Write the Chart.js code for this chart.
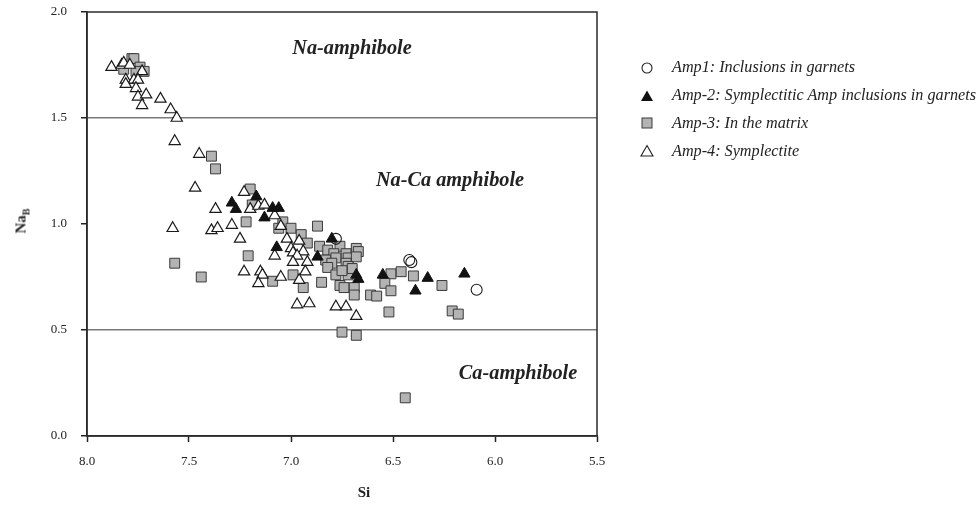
<!DOCTYPE html>
<html>
<head>
<meta charset="utf-8">
<script src="https://cdn.jsdelivr.net/npm/chart.js@4/dist/chart.umd.min.js"></script>
<style>
  html, body { margin: 0; padding: 0; background: #fff; }
  #wrap { position: relative; width: 979px; height: 508px; font-family: "Liberation Serif", "DejaVu Serif", serif; color: #222; }
  #c { position: absolute; left: 0; top: 0; }
  .region { position: absolute; font-weight: bold; font-style: italic; font-size: 20.3px; white-space: nowrap; transform: translate(-50%, -50%); color: #222; }
  .axis-title { position: absolute; font-weight: bold; font-size: 15px; white-space: nowrap; transform: translate(-50%, -50%); }
  .ytitle { transform: translate(-50%, -50%) rotate(-90deg); }
  .ytitle sub { font-size: 10px; }
  #legend { position: absolute; left: 639px; top: 54px; }
  .item { height: 27.8px; display: flex; align-items: center; font-style: italic; font-size: 16.2px; white-space: nowrap; }
  .mk { width: 16px; height: 14px; margin-right: 17px; display: inline-block; }
</style>
</head>
<body>
<div id="wrap">
  <canvas id="c" width="979" height="508"></canvas>
  <div class="region" style="left:352px; top:47px;">Na-amphibole</div>
  <div class="region" style="left:450px; top:179px;">Na-Ca amphibole</div>
  <div class="region" style="left:518px; top:372px;">Ca-amphibole</div>
  <div class="axis-title" style="left:364px; top:492px;">Si</div>
  <div class="axis-title ytitle" style="left:22px; top:221px;">Na<sub>B</sub></div>
  <div id="legend"></div>
</div>
<script>
// Na(B) vs Si 分類図（角閃石）
const X_MIN = 5.5;
const X_MAX = 8.0;
const Y_MIN = 0;
const Y_MAX = 2.0;
const X_TICKS = [8.0, 7.5, 7.0, 6.5, 6.0, 5.5];
const Y_TICKS = [0.0, 0.5, 1.0, 1.5, 2.0];
const BOUNDARIES = [0.5, 1.5];

const SERIES_LABELS = [
  "Amp1: Inclusions in garnets",
  "Amp-2: Symplectitic Amp inclusions in garnets",
  "Amp-3: In the matrix",
  "Amp-4: Symplectite",
];

// [Si, NaB]
const AMP1 = [[6.78,0.93],[6.42,0.83],[6.41,0.82],[6.09,0.69]];

const AMP2 = [
  [7.29,1.10],[7.27,1.07],[7.17,1.13],[7.09,1.075],[7.06,1.075],[7.13,1.03],
  [7.07,0.89],[6.80,0.93],[6.87,0.845],[6.68,0.76],[6.67,0.74],[6.55,0.76],
  [6.33,0.745],[6.15,0.765],[6.39,0.685]
];

const AMP3 = [
  [7.78,1.78],[7.77,1.78],[7.74,1.74],[7.72,1.72],[7.82,1.73],[7.76,1.72],
  [7.39,1.32],[7.37,1.26],[7.20,1.165],[7.19,1.09],[7.22,1.01],[7.04,1.01],
  [7.06,0.98],[7.00,0.98],[6.87,0.99],[6.95,0.95],[6.92,0.91],[6.86,0.895],
  [6.82,0.877],[6.76,0.895],[6.68,0.885],[6.67,0.87],[6.73,0.86],[6.79,0.86],
  [6.83,0.83],[6.78,0.84],[6.72,0.84],[6.68,0.845],[6.80,0.815],[6.73,0.815],
  [6.82,0.795],[6.72,0.80],[7.21,0.85],[7.57,0.815],[7.44,0.75],[7.09,0.73],
  [6.99,0.76],[6.78,0.76],[6.72,0.76],[6.94,0.70],[6.85,0.725],[6.76,0.71],
  [6.74,0.70],[6.69,0.70],[6.69,0.665],[6.61,0.665],[6.58,0.66],[6.51,0.765],
  [6.46,0.775],[6.40,0.755],[6.54,0.72],[6.51,0.685],[6.26,0.71],[6.52,0.585],
  [6.21,0.59],[6.18,0.575],[6.75,0.49],[6.68,0.475],[6.44,0.18],[6.70,0.79],
  [6.75,0.78]
];

const AMP4 = [
  [7.88,1.74],[7.83,1.75],[7.82,1.76],[7.79,1.75],[7.73,1.72],[7.81,1.68],
  [7.77,1.68],[7.75,1.68],[7.81,1.66],[7.76,1.64],[7.75,1.60],[7.71,1.61],
  [7.73,1.56],[7.64,1.59],[7.59,1.54],[7.56,1.50],[7.57,1.39],[7.45,1.33],
  [7.47,1.17],[7.23,1.15],[7.20,1.07],[7.16,1.085],[7.13,1.09],[7.37,1.07],
  [7.08,1.04],[7.29,0.995],[7.39,0.97],[7.36,0.98],[7.05,0.99],[7.58,0.98],
  [7.25,0.93],[7.02,0.93],[6.96,0.92],[7.00,0.885],[6.94,0.87],[6.99,0.865],
  [7.08,0.85],[6.97,0.85],[6.92,0.82],[6.99,0.82],[7.23,0.775],[7.15,0.775],
  [7.14,0.76],[7.16,0.72],[7.05,0.75],[6.93,0.775],[6.96,0.735],[6.97,0.62],
  [6.91,0.625],[6.78,0.61],[6.73,0.61],[6.68,0.565]
];

const toPts = arr => arr.map(([x, y]) => ({ x, y }));

// 枠線（上・右も含めて囲む）
const framePlugin = {
  id: "frame",
  afterDraw(chart) {
    const { ctx, chartArea: a } = chart;
    ctx.save();
    ctx.strokeStyle = "#2a2a2a";
    ctx.lineWidth = 1.5;
    ctx.strokeRect(a.left, a.top, a.right - a.left, a.bottom - a.top);
    ctx.restore();
  }
};

const PLOT = { left: 87, right: 597, top: 12, bottom: 436 };
const TICK_FONT = { family: "Liberation Serif", size: 13 };

new Chart(document.getElementById("c").getContext("2d"), {
  type: "scatter",
  data: {
    datasets: [
      {
        label: SERIES_LABELS[2], data: toPts(AMP3), order: 4,
        pointStyle: "rect", pointRadius: 7, pointHoverRadius: 7,
        backgroundColor: "#b3b3b3", borderColor: "#3a3a3a", borderWidth: 1,
      },
      {
        label: SERIES_LABELS[3], data: toPts(AMP4), order: 3,
        pointStyle: "triangle", pointRadius: 6.5, pointHoverRadius: 6.5,
        backgroundColor: "#ffffff", borderColor: "#1a1a1a", borderWidth: 1.2,
      },
      {
        label: SERIES_LABELS[1], data: toPts(AMP2), order: 2,
        pointStyle: "triangle", pointRadius: 6.5, pointHoverRadius: 6.5,
        backgroundColor: "#111111", borderColor: "#111111", borderWidth: 1,
      },
      {
        label: SERIES_LABELS[0], data: toPts(AMP1), order: 1,
        pointStyle: "circle", pointRadius: 5.5, pointHoverRadius: 5.5,
        backgroundColor: "rgba(255,255,255,0)", borderColor: "#1a1a1a", borderWidth: 1.1,
      },
    ]
  },
  options: {
    responsive: false,
    animation: false,
    layout: { padding: { left: 0, top: PLOT.top, right: 979 - PLOT.right, bottom: 0 }, autoPadding: false },
    plugins: { legend: { display: false }, tooltip: { enabled: false } },
    scales: {
      x: {
        type: "linear", reverse: true, min: X_MIN, max: X_MAX,
        afterFit: s => { s.height = 508 - PLOT.bottom; s.paddingLeft = 0; s.paddingRight = 0; },
        afterBuildTicks: s => { s.ticks = X_TICKS.map(v => ({ value: v })); },
        ticks: { callback: v => Number(v).toFixed(1), color: "#222", font: TICK_FONT, padding: 12, maxRotation: 0 },
        grid: { drawOnChartArea: false, drawTicks: true, tickLength: 6, tickColor: "#222", tickWidth: 1.5 },
        border: { color: "#2a2a2a", width: 1.5 },
      },
      y: {
        type: "linear", min: Y_MIN, max: Y_MAX,
        // 目盛ラベルの余白が上端を押し下げないようにする
        afterFit: s => { s.width = PLOT.left; s.paddingTop = 0; s.paddingBottom = 0; },
        afterBuildTicks: s => { s.ticks = Y_TICKS.map(v => ({ value: v })); },
        ticks: { callback: v => Number(v).toFixed(1), color: "#222", font: TICK_FONT, padding: 14 },
        grid: {
          drawTicks: true, tickLength: 6, tickColor: "#222", tickWidth: 1.5,
          color: c => (c.tick && BOUNDARIES.includes(c.tick.value)) ? "#7a7a7a" : "rgba(0,0,0,0)",
          lineWidth: 1.5,
        },
        border: { color: "#2a2a2a", width: 1.5 },
      }
    }
  },
  plugins: [framePlugin]
});

// 凡例（HTML）
const MARKERS = [
  '<svg width="16" height="14"><circle cx="8" cy="7" r="5" fill="#fff" stroke="#222" stroke-width="1.1"/></svg>',
  '<svg width="16" height="14"><polygon points="8,1.5 14,12 2,12" fill="#111"/></svg>',
  '<svg width="16" height="14"><rect x="3" y="2" width="10" height="10" fill="#b3b3b3" stroke="#3a3a3a" stroke-width="1"/></svg>',
  '<svg width="16" height="14"><polygon points="8,1.5 14,12 2,12" fill="#fff" stroke="#222" stroke-width="1.1"/></svg>',
];
const legendEl = document.getElementById("legend");
SERIES_LABELS.forEach((lab, i) => {
  const d = document.createElement("div");
  d.className = "item";
  d.innerHTML = `<span class="mk">${MARKERS[i]}</span><span>${lab}</span>`;
  legendEl.appendChild(d);
});
</script>
</body>
</html>
